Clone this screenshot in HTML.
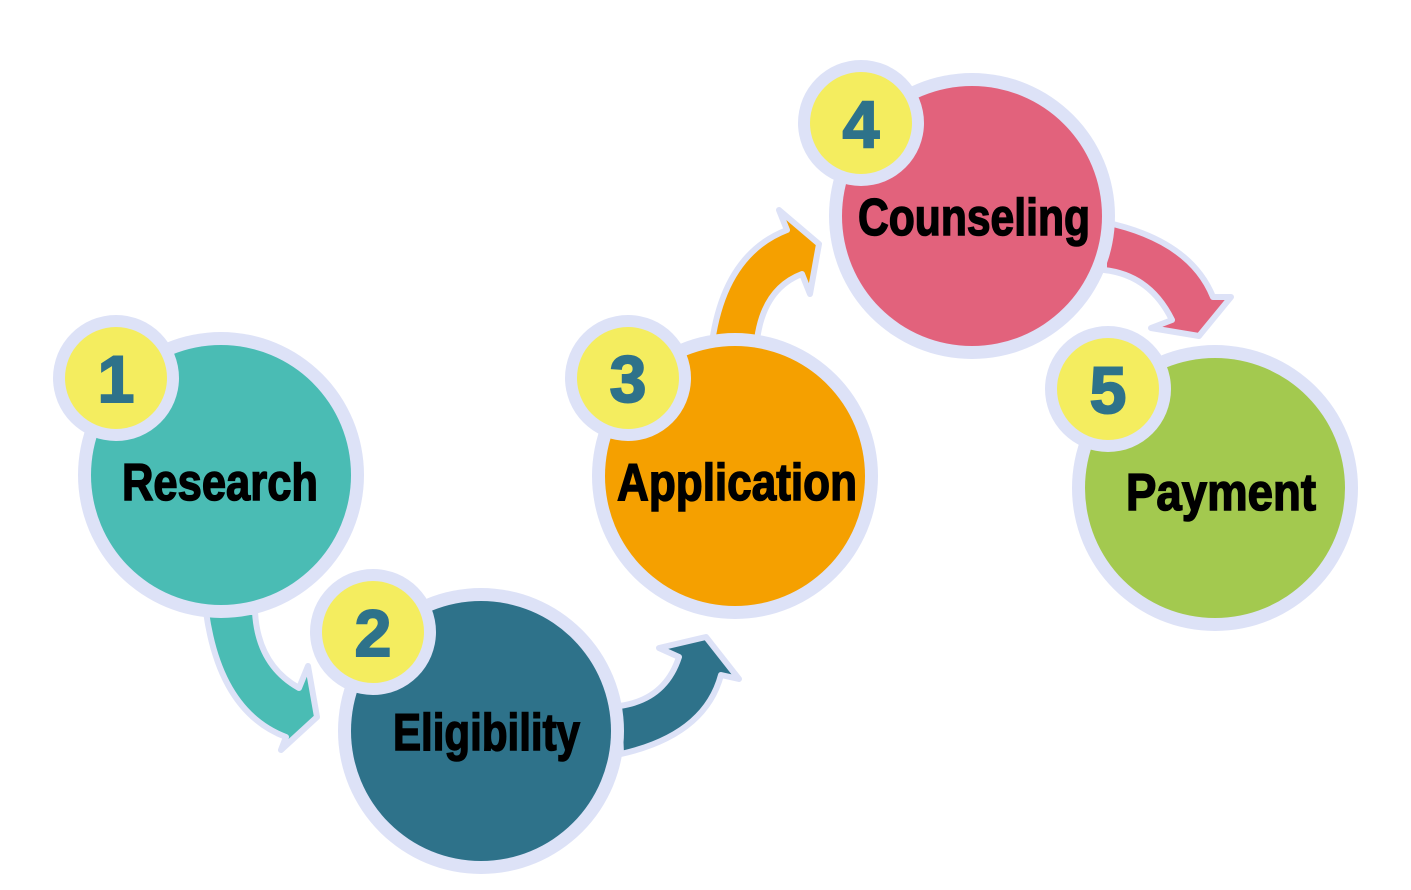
<!DOCTYPE html>
<html><head><meta charset="utf-8"><style>
html,body{margin:0;padding:0;background:#fff;}
svg{display:block}
text{font-family:"Liberation Sans",sans-serif;font-weight:bold}
</style></head><body>
<svg width="1411" height="890" viewBox="0 0 1411 890" xmlns="http://www.w3.org/2000/svg">
<g stroke="#dde2f7" stroke-width="6" stroke-linejoin="round">
<path fill="#4abcb4" d="M206,612 Q220,712 286,737 L281,750 L317,717 L308,666 L299,688 Q258,665 255,612 Z"/>
<path fill="#2e728a" d="M621,754 Q705,735 721,675 L739,679 L706,637 L659,648 L679,657 Q665,700 619,706 Z"/>
<path fill="#f5a000" d="M711,350 Q722,255 787,230 L779,210 L819,244 L810,294 L802,274 Q760,290 756,350 Z"/>
<path fill="#e2627c" d="M1104,222 Q1190,240 1213,297 L1231,297 L1199,336 L1151,328 L1172,320 Q1150,275 1104,270 Z"/>
</g>
<g fill="#dde2f7">
<circle cx="221" cy="475" r="143"/><circle cx="481" cy="731" r="143"/><circle cx="735" cy="476" r="143"/><circle cx="972" cy="216" r="143"/><circle cx="1215" cy="488" r="143"/>
</g>
<circle cx="221" cy="475" r="130" fill="#4abcb4"/>
<circle cx="481" cy="731" r="130" fill="#2e728a"/>
<circle cx="735" cy="476" r="130" fill="#f5a000"/>
<circle cx="972" cy="216" r="130" fill="#e2627c"/>
<circle cx="1215" cy="488" r="130" fill="#a3c94f"/>
<g fill="#dde2f7">
<circle cx="116" cy="378" r="63"/><circle cx="373" cy="632" r="63"/><circle cx="628" cy="378" r="63"/><circle cx="861" cy="123" r="63"/><circle cx="1108" cy="389" r="63"/>
</g>
<g fill="#f4ed5f">
<circle cx="116" cy="378" r="51"/><circle cx="373" cy="632" r="51"/><circle cx="628" cy="378" r="51"/><circle cx="861" cy="123" r="51"/><circle cx="1108" cy="389" r="51"/>
</g>
<g fill="#2e728a" stroke="#2e728a" stroke-width="2" font-size="66" text-anchor="middle">
<text x="116" y="402">1</text><text x="373" y="656">2</text><text x="628" y="402">3</text><text x="861" y="147">4</text><text x="1108" y="413">5</text>
</g>
<g fill="#000" stroke="#000" stroke-width="1.5" font-size="52">
<text x="122" y="500" textLength="196" lengthAdjust="spacingAndGlyphs">Research</text>
<text x="393" y="750" textLength="187" lengthAdjust="spacingAndGlyphs">Eligibility</text>
<text x="617" y="500" textLength="240" lengthAdjust="spacingAndGlyphs">Application</text>
<text x="858" y="235" textLength="232" lengthAdjust="spacingAndGlyphs">Counseling</text>
<text x="1126" y="510" textLength="190" lengthAdjust="spacingAndGlyphs">Payment</text>
</g>
</svg>
</body></html>
